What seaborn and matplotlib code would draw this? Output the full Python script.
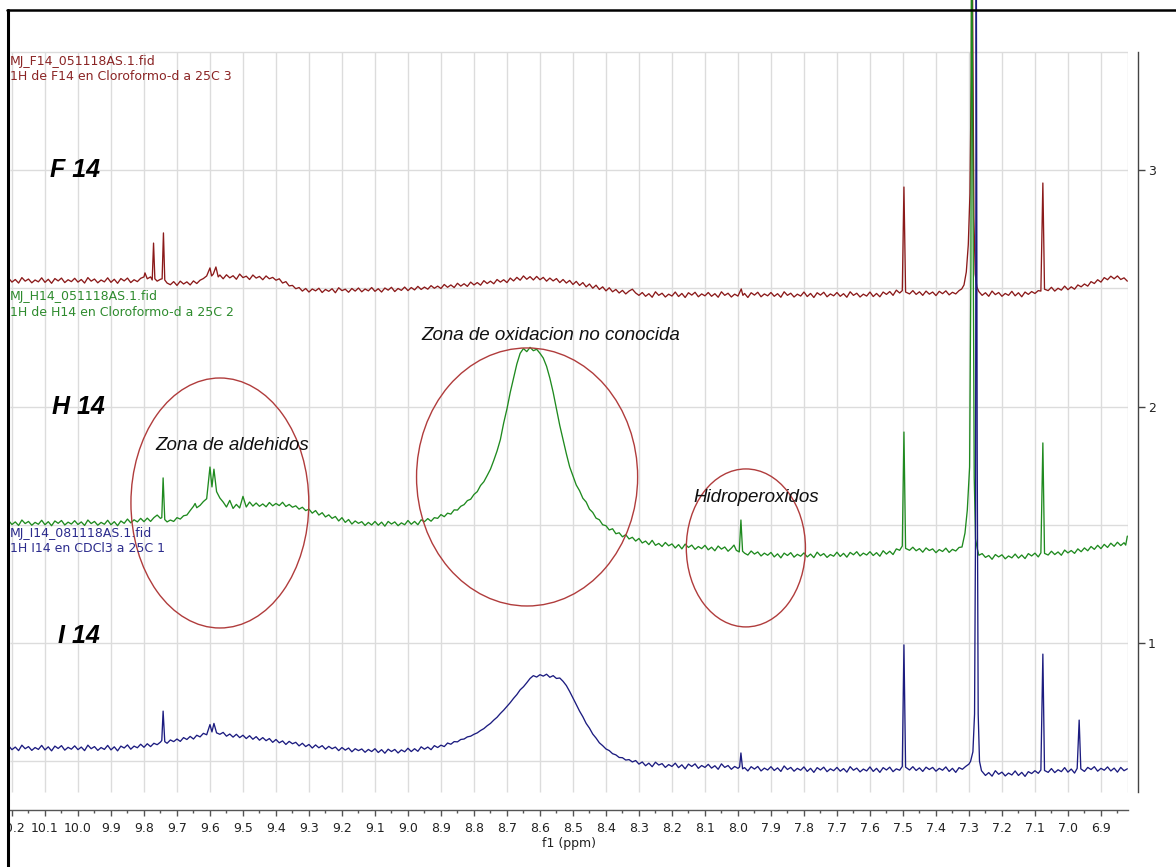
import numpy as np
import pandas as pd
import matplotlib
matplotlib.use("Agg")
import matplotlib.pyplot as plt
import seaborn as sns
from matplotlib.patches import Ellipse, Rectangle
from matplotlib.lines import Line2D

# ---------------- data ----------------
samples = ["F 14", "H 14", "I 14"]

f14_points = [
    (10.21, 2.542), (10.20, 2.526), (10.19, 2.537), (10.18, 2.522), (10.17, 2.545), (10.16, 2.530),
    (10.15, 2.539), (10.14, 2.523), (10.13, 2.535), (10.12, 2.527), (10.11, 2.544), (10.10, 2.525),
    (10.09, 2.538), (10.08, 2.521), (10.07, 2.541), (10.06, 2.531), (10.05, 2.543), (10.04, 2.524),
    (10.03, 2.536), (10.02, 2.528), (10.01, 2.542), (10.00, 2.526), (9.99, 2.537), (9.98, 2.522),
    (9.97, 2.545), (9.96, 2.530), (9.95, 2.539), (9.94, 2.523), (9.93, 2.535), (9.92, 2.527),
    (9.91, 2.544), (9.90, 2.525), (9.89, 2.538), (9.88, 2.521), (9.87, 2.541), (9.86, 2.531),
    (9.85, 2.543), (9.84, 2.524), (9.83, 2.536), (9.82, 2.528), (9.81, 2.542), (9.80, 2.548),
    (9.797, 2.565), (9.79, 2.540), (9.78, 2.548), (9.775, 2.535), (9.771, 2.691), (9.767, 2.540),
    (9.76, 2.530), (9.75, 2.538), (9.745, 2.540), (9.741, 2.734), (9.737, 2.535), (9.73, 2.522),
    (9.72, 2.515), (9.71, 2.528), (9.70, 2.512), (9.69, 2.530), (9.68, 2.518), (9.67, 2.527),
    (9.66, 2.514), (9.65, 2.531), (9.64, 2.520), (9.63, 2.534), (9.62, 2.541), (9.61, 2.552),
    (9.60, 2.586), (9.595, 2.552), (9.59, 2.560), (9.582, 2.590), (9.575, 2.548), (9.57, 2.556),
    (9.56, 2.540), (9.55, 2.557), (9.54, 2.544), (9.53, 2.553), (9.52, 2.538), (9.51, 2.560),
    (9.50, 2.545), (9.49, 2.551), (9.48, 2.537), (9.47, 2.556), (9.46, 2.543), (9.45, 2.550),
    (9.44, 2.536), (9.43, 2.552), (9.42, 2.540), (9.41, 2.546), (9.40, 2.534), (9.39, 2.540),
    (9.38, 2.522), (9.37, 2.528), (9.36, 2.510), (9.35, 2.512), (9.34, 2.498), (9.33, 2.503),
    (9.32, 2.488), (9.31, 2.499), (9.30, 2.484), (9.29, 2.497), (9.28, 2.489), (9.27, 2.500),
    (9.26, 2.482), (9.25, 2.495), (9.24, 2.487), (9.23, 2.498), (9.22, 2.481), (9.21, 2.502),
    (9.20, 2.490), (9.19, 2.496), (9.18, 2.483), (9.17, 2.499), (9.16, 2.488), (9.15, 2.501),
    (9.14, 2.485), (9.13, 2.497), (9.12, 2.489), (9.11, 2.503), (9.10, 2.487), (9.09, 2.498),
    (9.08, 2.484), (9.07, 2.501), (9.06, 2.492), (9.05, 2.504), (9.04, 2.486), (9.03, 2.499),
    (9.02, 2.491), (9.01, 2.505), (9.00, 2.490), (8.99, 2.503), (8.98, 2.493), (8.97, 2.508),
    (8.96, 2.495), (8.95, 2.505), (8.94, 2.496), (8.93, 2.511), (8.92, 2.500), (8.91, 2.509),
    (8.90, 2.499), (8.89, 2.516), (8.88, 2.504), (8.87, 2.514), (8.86, 2.503), (8.85, 2.521),
    (8.84, 2.509), (8.83, 2.519), (8.82, 2.508), (8.81, 2.526), (8.80, 2.514), (8.79, 2.524),
    (8.78, 2.513), (8.77, 2.532), (8.76, 2.520), (8.75, 2.530), (8.74, 2.519), (8.73, 2.537),
    (8.72, 2.526), (8.71, 2.536), (8.70, 2.524), (8.69, 2.543), (8.68, 2.531), (8.67, 2.546),
    (8.66, 2.534), (8.65, 2.552), (8.64, 2.538), (8.63, 2.549), (8.62, 2.535), (8.61, 2.550),
    (8.60, 2.536), (8.59, 2.546), (8.58, 2.530), (8.57, 2.543), (8.56, 2.531), (8.55, 2.541),
    (8.54, 2.524), (8.53, 2.537), (8.52, 2.522), (8.51, 2.533), (8.50, 2.516), (8.49, 2.529),
    (8.48, 2.512), (8.47, 2.524), (8.46, 2.506), (8.45, 2.518), (8.44, 2.500), (8.43, 2.513),
    (8.42, 2.495), (8.41, 2.506), (8.40, 2.489), (8.39, 2.502), (8.38, 2.485), (8.37, 2.495),
    (8.36, 2.480), (8.35, 2.491), (8.34, 2.476), (8.33, 2.488), (8.32, 2.496), (8.31, 2.480),
    (8.30, 2.470), (8.29, 2.482), (8.28, 2.466), (8.27, 2.477), (8.26, 2.462), (8.25, 2.485),
    (8.24, 2.470), (8.23, 2.479), (8.22, 2.463), (8.21, 2.475), (8.20, 2.467), (8.19, 2.484),
    (8.18, 2.465), (8.17, 2.478), (8.16, 2.461), (8.15, 2.481), (8.14, 2.471), (8.13, 2.483),
    (8.12, 2.464), (8.11, 2.476), (8.10, 2.468), (8.09, 2.482), (8.08, 2.466), (8.07, 2.477),
    (8.06, 2.462), (8.05, 2.485), (8.04, 2.470), (8.03, 2.479), (8.02, 2.463), (8.01, 2.475),
    (8.00, 2.467), (7.99, 2.497), (7.985, 2.470), (7.98, 2.478), (7.97, 2.461), (7.96, 2.481),
    (7.95, 2.471), (7.94, 2.483), (7.93, 2.464), (7.92, 2.476), (7.91, 2.468), (7.90, 2.482),
    (7.89, 2.466), (7.88, 2.477), (7.87, 2.462), (7.86, 2.485), (7.85, 2.470), (7.84, 2.479),
    (7.83, 2.463), (7.82, 2.475), (7.81, 2.467), (7.80, 2.484), (7.79, 2.465), (7.78, 2.478),
    (7.77, 2.461), (7.76, 2.481), (7.75, 2.471), (7.74, 2.483), (7.73, 2.464), (7.72, 2.476),
    (7.71, 2.468), (7.70, 2.482), (7.69, 2.466), (7.68, 2.477), (7.67, 2.462), (7.66, 2.485),
    (7.65, 2.470), (7.64, 2.479), (7.63, 2.463), (7.62, 2.475), (7.61, 2.467), (7.60, 2.484),
    (7.59, 2.465), (7.58, 2.478), (7.57, 2.464), (7.56, 2.484), (7.55, 2.474), (7.54, 2.486),
    (7.53, 2.470), (7.52, 2.492), (7.51, 2.480), (7.502, 2.490), (7.497, 2.928), (7.492, 2.484),
    (7.48, 2.476), (7.47, 2.490), (7.46, 2.474), (7.45, 2.485), (7.44, 2.470), (7.43, 2.488),
    (7.42, 2.475), (7.41, 2.484), (7.40, 2.469), (7.39, 2.487), (7.38, 2.477), (7.37, 2.489),
    (7.36, 2.472), (7.35, 2.483), (7.34, 2.476), (7.33, 2.490), (7.322, 2.497), (7.315, 2.514),
    (7.308, 2.569), (7.302, 2.684), (7.297, 2.900), (7.293, 3.400), (7.291, 4.200), (7.288, 3.500),
    (7.285, 2.800), (7.281, 2.560), (7.276, 2.505), (7.27, 2.486), (7.26, 2.470), (7.25, 2.481),
    (7.24, 2.466), (7.23, 2.488), (7.22, 2.473), (7.21, 2.482), (7.20, 2.466), (7.19, 2.478),
    (7.18, 2.470), (7.17, 2.487), (7.16, 2.468), (7.15, 2.481), (7.14, 2.464), (7.13, 2.484),
    (7.12, 2.474), (7.11, 2.486), (7.10, 2.478), (7.09, 2.490), (7.082, 2.488), (7.076, 2.945),
    (7.071, 2.496), (7.06, 2.490), (7.05, 2.504), (7.04, 2.488), (7.03, 2.500), (7.02, 2.492),
    (7.01, 2.509), (7.00, 2.494), (6.99, 2.506), (6.98, 2.496), (6.97, 2.514), (6.96, 2.506),
    (6.95, 2.518), (6.94, 2.509), (6.93, 2.528), (6.92, 2.520), (6.91, 2.536), (6.90, 2.526),
    (6.89, 2.545), (6.88, 2.536), (6.87, 2.551), (6.86, 2.540), (6.85, 2.552), (6.84, 2.537),
    (6.83, 2.544), (6.82, 2.530),
]

h14_points = [
    (10.21, 1.517), (10.20, 1.501), (10.19, 1.512), (10.18, 1.497), (10.17, 1.520), (10.16, 1.505),
    (10.15, 1.514), (10.14, 1.498), (10.13, 1.510), (10.12, 1.502), (10.11, 1.519), (10.10, 1.500),
    (10.09, 1.513), (10.08, 1.496), (10.07, 1.516), (10.06, 1.506), (10.05, 1.518), (10.04, 1.499),
    (10.03, 1.511), (10.02, 1.503), (10.01, 1.517), (10.00, 1.501), (9.99, 1.512), (9.98, 1.497),
    (9.97, 1.520), (9.96, 1.505), (9.95, 1.514), (9.94, 1.498), (9.93, 1.510), (9.92, 1.502),
    (9.91, 1.519), (9.90, 1.500), (9.89, 1.513), (9.88, 1.496), (9.87, 1.516), (9.86, 1.506),
    (9.85, 1.524), (9.84, 1.508), (9.83, 1.521), (9.82, 1.512), (9.81, 1.527), (9.80, 1.513),
    (9.79, 1.528), (9.78, 1.514), (9.77, 1.530), (9.76, 1.541), (9.75, 1.527), (9.746, 1.530),
    (9.742, 1.698), (9.737, 1.522), (9.73, 1.512), (9.72, 1.520), (9.71, 1.514), (9.70, 1.530),
    (9.69, 1.524), (9.68, 1.538), (9.67, 1.541), (9.66, 1.560), (9.65, 1.578), (9.645, 1.590),
    (9.64, 1.572), (9.63, 1.582), (9.62, 1.598), (9.61, 1.610), (9.60, 1.744), (9.594, 1.660),
    (9.588, 1.735), (9.58, 1.640), (9.57, 1.613), (9.56, 1.596), (9.55, 1.575), (9.54, 1.603),
    (9.53, 1.569), (9.52, 1.586), (9.51, 1.571), (9.50, 1.620), (9.49, 1.575), (9.48, 1.596),
    (9.47, 1.579), (9.46, 1.592), (9.45, 1.578), (9.44, 1.588), (9.43, 1.576), (9.42, 1.594),
    (9.41, 1.580), (9.40, 1.590), (9.39, 1.581), (9.38, 1.595), (9.37, 1.577), (9.36, 1.586),
    (9.35, 1.574), (9.34, 1.580), (9.33, 1.566), (9.32, 1.574), (9.31, 1.560), (9.30, 1.566),
    (9.29, 1.549), (9.28, 1.560), (9.27, 1.541), (9.26, 1.551), (9.25, 1.533), (9.24, 1.542),
    (9.23, 1.527), (9.22, 1.535), (9.21, 1.516), (9.20, 1.530), (9.19, 1.510), (9.18, 1.522),
    (9.17, 1.503), (9.16, 1.516), (9.15, 1.506), (9.14, 1.513), (9.13, 1.497), (9.12, 1.510),
    (9.11, 1.499), (9.10, 1.514), (9.09, 1.498), (9.08, 1.511), (9.07, 1.494), (9.06, 1.514),
    (9.05, 1.503), (9.04, 1.512), (9.03, 1.496), (9.02, 1.508), (9.01, 1.500), (9.00, 1.518),
    (8.99, 1.502), (8.98, 1.514), (8.97, 1.500), (8.96, 1.521), (8.95, 1.513), (8.94, 1.526),
    (8.93, 1.515), (8.92, 1.530), (8.91, 1.527), (8.90, 1.543), (8.89, 1.534), (8.88, 1.549),
    (8.87, 1.545), (8.86, 1.563), (8.85, 1.562), (8.84, 1.578), (8.83, 1.585), (8.82, 1.602),
    (8.81, 1.608), (8.80, 1.628), (8.79, 1.640), (8.78, 1.666), (8.77, 1.682), (8.76, 1.708),
    (8.75, 1.735), (8.74, 1.772), (8.73, 1.812), (8.72, 1.860), (8.71, 1.930), (8.70, 1.990),
    (8.69, 2.060), (8.68, 2.120), (8.67, 2.180), (8.66, 2.225), (8.65, 2.245), (8.64, 2.232),
    (8.63, 2.250), (8.62, 2.236), (8.61, 2.242), (8.60, 2.225), (8.59, 2.205), (8.58, 2.170),
    (8.57, 2.120), (8.56, 2.060), (8.55, 1.990), (8.54, 1.920), (8.53, 1.860), (8.52, 1.800),
    (8.51, 1.745), (8.50, 1.706), (8.49, 1.668), (8.48, 1.644), (8.47, 1.612), (8.46, 1.596),
    (8.45, 1.566), (8.44, 1.552), (8.43, 1.528), (8.42, 1.521), (8.41, 1.500), (8.40, 1.496),
    (8.39, 1.478), (8.38, 1.483), (8.37, 1.462), (8.36, 1.466), (8.35, 1.449), (8.34, 1.458),
    (8.33, 1.440), (8.32, 1.447), (8.31, 1.431), (8.30, 1.442), (8.29, 1.423), (8.28, 1.431),
    (8.27, 1.416), (8.26, 1.434), (8.25, 1.413), (8.24, 1.421), (8.23, 1.408), (8.22, 1.425),
    (8.21, 1.411), (8.20, 1.419), (8.19, 1.402), (8.18, 1.416), (8.17, 1.398), (8.16, 1.418),
    (8.15, 1.404), (8.14, 1.414), (8.13, 1.396), (8.12, 1.408), (8.11, 1.399), (8.10, 1.413),
    (8.09, 1.394), (8.08, 1.405), (8.07, 1.390), (8.06, 1.410), (8.05, 1.397), (8.04, 1.406),
    (8.03, 1.388), (8.02, 1.401), (8.012, 1.414), (8.005, 1.392), (7.996, 1.385), (7.991, 1.520),
    (7.986, 1.388), (7.98, 1.380), (7.97, 1.372), (7.96, 1.389), (7.95, 1.376), (7.94, 1.385),
    (7.93, 1.368), (7.92, 1.380), (7.91, 1.371), (7.90, 1.383), (7.89, 1.364), (7.88, 1.377),
    (7.87, 1.360), (7.86, 1.380), (7.85, 1.370), (7.84, 1.382), (7.83, 1.363), (7.82, 1.375),
    (7.81, 1.367), (7.80, 1.381), (7.79, 1.364), (7.78, 1.376), (7.77, 1.361), (7.76, 1.384),
    (7.75, 1.369), (7.74, 1.378), (7.73, 1.362), (7.72, 1.374), (7.71, 1.367), (7.70, 1.384),
    (7.69, 1.366), (7.68, 1.379), (7.67, 1.363), (7.66, 1.383), (7.65, 1.373), (7.64, 1.386),
    (7.63, 1.368), (7.62, 1.380), (7.61, 1.372), (7.60, 1.386), (7.59, 1.370), (7.58, 1.382),
    (7.57, 1.367), (7.56, 1.390), (7.55, 1.376), (7.54, 1.388), (7.53, 1.374), (7.52, 1.398),
    (7.51, 1.392), (7.502, 1.410), (7.497, 1.892), (7.492, 1.400), (7.48, 1.392), (7.47, 1.405),
    (7.46, 1.390), (7.45, 1.399), (7.44, 1.384), (7.43, 1.402), (7.42, 1.391), (7.41, 1.398),
    (7.40, 1.382), (7.39, 1.395), (7.38, 1.387), (7.37, 1.401), (7.36, 1.383), (7.35, 1.396),
    (7.34, 1.389), (7.33, 1.404), (7.321, 1.406), (7.312, 1.465), (7.305, 1.562), (7.298, 1.744),
    (7.294, 2.600), (7.292, 4.200), (7.288, 3.000), (7.284, 1.700), (7.280, 1.440), (7.275, 1.400),
    (7.27, 1.371), (7.26, 1.378), (7.25, 1.362), (7.24, 1.370), (7.23, 1.354), (7.22, 1.374),
    (7.21, 1.364), (7.20, 1.373), (7.19, 1.356), (7.18, 1.368), (7.17, 1.360), (7.16, 1.376),
    (7.15, 1.359), (7.14, 1.372), (7.13, 1.357), (7.12, 1.378), (7.11, 1.368), (7.10, 1.380),
    (7.09, 1.364), (7.082, 1.381), (7.076, 1.846), (7.071, 1.379), (7.06, 1.372), (7.05, 1.388),
    (7.04, 1.374), (7.03, 1.385), (7.02, 1.371), (7.01, 1.393), (7.00, 1.381), (6.99, 1.391),
    (6.98, 1.379), (6.97, 1.398), (6.96, 1.386), (6.95, 1.402), (6.94, 1.390), (6.93, 1.408),
    (6.92, 1.396), (6.91, 1.413), (6.90, 1.399), (6.89, 1.417), (6.88, 1.404), (6.87, 1.422),
    (6.86, 1.409), (6.85, 1.426), (6.84, 1.412), (6.83, 1.424), (6.825, 1.414), (6.82, 1.452),
]

i14_points = [
    (10.21, 0.565), (10.20, 0.549), (10.19, 0.560), (10.18, 0.545), (10.17, 0.568), (10.16, 0.553),
    (10.15, 0.562), (10.14, 0.546), (10.13, 0.558), (10.12, 0.550), (10.11, 0.567), (10.10, 0.548),
    (10.09, 0.561), (10.08, 0.544), (10.07, 0.564), (10.06, 0.554), (10.05, 0.566), (10.04, 0.547),
    (10.03, 0.559), (10.02, 0.551), (10.01, 0.565), (10.00, 0.549), (9.99, 0.560), (9.98, 0.545),
    (9.97, 0.568), (9.96, 0.553), (9.95, 0.562), (9.94, 0.546), (9.93, 0.558), (9.92, 0.550),
    (9.91, 0.567), (9.90, 0.548), (9.89, 0.561), (9.88, 0.544), (9.87, 0.564), (9.86, 0.556),
    (9.85, 0.569), (9.84, 0.551), (9.83, 0.564), (9.82, 0.557), (9.81, 0.572), (9.80, 0.559),
    (9.79, 0.574), (9.78, 0.562), (9.77, 0.576), (9.76, 0.570), (9.75, 0.581), (9.746, 0.588),
    (9.742, 0.712), (9.737, 0.583), (9.73, 0.576), (9.72, 0.590), (9.71, 0.583), (9.70, 0.594),
    (9.69, 0.584), (9.68, 0.600), (9.67, 0.592), (9.66, 0.605), (9.65, 0.594), (9.64, 0.610),
    (9.63, 0.603), (9.62, 0.618), (9.61, 0.612), (9.60, 0.655), (9.594, 0.624), (9.588, 0.660),
    (9.58, 0.620), (9.57, 0.614), (9.56, 0.622), (9.55, 0.606), (9.54, 0.615), (9.53, 0.602),
    (9.52, 0.614), (9.51, 0.600), (9.50, 0.610), (9.49, 0.596), (9.48, 0.608), (9.47, 0.593),
    (9.46, 0.604), (9.45, 0.589), (9.44, 0.600), (9.43, 0.587), (9.42, 0.596), (9.41, 0.580),
    (9.40, 0.592), (9.39, 0.578), (9.38, 0.586), (9.37, 0.571), (9.36, 0.584), (9.35, 0.574),
    (9.34, 0.580), (9.33, 0.565), (9.32, 0.576), (9.31, 0.562), (9.30, 0.571), (9.29, 0.556),
    (9.28, 0.569), (9.27, 0.557), (9.26, 0.566), (9.25, 0.551), (9.24, 0.563), (9.23, 0.553),
    (9.22, 0.560), (9.21, 0.545), (9.20, 0.558), (9.19, 0.547), (9.18, 0.556), (9.17, 0.540),
    (9.16, 0.553), (9.15, 0.545), (9.14, 0.552), (9.13, 0.538), (9.12, 0.550), (9.11, 0.541),
    (9.10, 0.553), (9.09, 0.537), (9.08, 0.549), (9.07, 0.534), (9.06, 0.551), (9.05, 0.541),
    (9.04, 0.550), (9.03, 0.535), (9.02, 0.548), (9.01, 0.540), (9.00, 0.555), (8.99, 0.541),
    (8.98, 0.553), (8.97, 0.542), (8.96, 0.561), (8.95, 0.551), (8.94, 0.560), (8.93, 0.549),
    (8.92, 0.566), (8.91, 0.558), (8.90, 0.568), (8.89, 0.562), (8.88, 0.577), (8.87, 0.572),
    (8.86, 0.583), (8.85, 0.582), (8.84, 0.592), (8.83, 0.594), (8.82, 0.603), (8.81, 0.606),
    (8.80, 0.614), (8.79, 0.620), (8.78, 0.630), (8.77, 0.638), (8.76, 0.650), (8.75, 0.660),
    (8.74, 0.674), (8.73, 0.686), (8.72, 0.702), (8.71, 0.716), (8.70, 0.732), (8.69, 0.748),
    (8.68, 0.766), (8.67, 0.782), (8.66, 0.802), (8.65, 0.815), (8.64, 0.832), (8.63, 0.850),
    (8.62, 0.862), (8.61, 0.856), (8.60, 0.866), (8.59, 0.860), (8.58, 0.868), (8.57, 0.855),
    (8.56, 0.862), (8.55, 0.850), (8.54, 0.852), (8.53, 0.838), (8.52, 0.820), (8.51, 0.795),
    (8.50, 0.768), (8.49, 0.740), (8.48, 0.712), (8.47, 0.688), (8.46, 0.660), (8.45, 0.640),
    (8.44, 0.615), (8.43, 0.598), (8.42, 0.578), (8.41, 0.566), (8.40, 0.552), (8.39, 0.545),
    (8.38, 0.532), (8.37, 0.527), (8.36, 0.516), (8.35, 0.515), (8.34, 0.505), (8.33, 0.507),
    (8.32, 0.497), (8.31, 0.503), (8.30, 0.488), (8.29, 0.497), (8.28, 0.481), (8.27, 0.492),
    (8.26, 0.477), (8.25, 0.496), (8.24, 0.484), (8.23, 0.490), (8.22, 0.474), (8.21, 0.486),
    (8.20, 0.478), (8.19, 0.492), (8.18, 0.473), (8.17, 0.485), (8.16, 0.468), (8.15, 0.488),
    (8.14, 0.478), (8.13, 0.489), (8.12, 0.470), (8.11, 0.482), (8.10, 0.474), (8.09, 0.487),
    (8.08, 0.471), (8.07, 0.481), (8.06, 0.466), (8.05, 0.489), (8.04, 0.474), (8.03, 0.482),
    (8.02, 0.466), (8.01, 0.478), (8.00, 0.470), (7.995, 0.476), (7.991, 0.535), (7.986, 0.468),
    (7.98, 0.473), (7.97, 0.459), (7.96, 0.477), (7.95, 0.467), (7.94, 0.478), (7.93, 0.459),
    (7.92, 0.471), (7.91, 0.463), (7.90, 0.477), (7.89, 0.461), (7.88, 0.472), (7.87, 0.457),
    (7.86, 0.480), (7.85, 0.465), (7.84, 0.474), (7.83, 0.458), (7.82, 0.470), (7.81, 0.462),
    (7.80, 0.476), (7.79, 0.457), (7.78, 0.470), (7.77, 0.453), (7.76, 0.473), (7.75, 0.463),
    (7.74, 0.475), (7.73, 0.456), (7.72, 0.468), (7.71, 0.460), (7.70, 0.474), (7.69, 0.458),
    (7.68, 0.469), (7.67, 0.454), (7.66, 0.477), (7.65, 0.462), (7.64, 0.471), (7.63, 0.455),
    (7.62, 0.467), (7.61, 0.459), (7.60, 0.476), (7.59, 0.457), (7.58, 0.470), (7.57, 0.453),
    (7.56, 0.473), (7.55, 0.463), (7.54, 0.475), (7.53, 0.456), (7.52, 0.468), (7.51, 0.462),
    (7.502, 0.478), (7.497, 0.992), (7.492, 0.475), (7.48, 0.463), (7.47, 0.477), (7.46, 0.461),
    (7.45, 0.472), (7.44, 0.457), (7.43, 0.475), (7.42, 0.465), (7.41, 0.474), (7.40, 0.458),
    (7.39, 0.470), (7.38, 0.462), (7.37, 0.476), (7.36, 0.457), (7.35, 0.470), (7.34, 0.453),
    (7.33, 0.473), (7.32, 0.466), (7.31, 0.478), (7.300, 0.488), (7.295, 0.500), (7.288, 0.540),
    (7.283, 0.700), (7.280, 1.500), (7.278, 4.200), (7.275, 1.800), (7.272, 0.700), (7.268, 0.500),
    (7.262, 0.460), (7.25, 0.440), (7.24, 0.452), (7.23, 0.437), (7.22, 0.460), (7.21, 0.445),
    (7.20, 0.454), (7.19, 0.438), (7.18, 0.450), (7.17, 0.442), (7.16, 0.459), (7.15, 0.440),
    (7.14, 0.453), (7.13, 0.436), (7.12, 0.456), (7.11, 0.448), (7.10, 0.460), (7.09, 0.449),
    (7.082, 0.463), (7.076, 0.953), (7.071, 0.461), (7.06, 0.453), (7.05, 0.469), (7.04, 0.452),
    (7.03, 0.464), (7.02, 0.456), (7.01, 0.473), (7.00, 0.454), (6.99, 0.467), (6.98, 0.450),
    (6.972, 0.470), (6.966, 0.674), (6.961, 0.468), (6.95, 0.457), (6.94, 0.474), (6.93, 0.465),
    (6.92, 0.477), (6.91, 0.458), (6.90, 0.470), (6.89, 0.462), (6.88, 0.476), (6.87, 0.459),
    (6.86, 0.471), (6.85, 0.454), (6.84, 0.474), (6.83, 0.460), (6.82, 0.468),
]

file_names = ["MJ_F14_051118AS.1.fid", "MJ_H14_051118AS.1.fid", "MJ_I14_081118AS.1.fid"]
descriptions = ["1H de F14 en Cloroformo-d a 25C 3", "1H de H14 en Cloroformo-d a 25C 2",
                "1H I14 en CDCl3 a 25C 1"]
x_ticks = [10.2, 10.1, 10.0, 9.9, 9.8, 9.7, 9.6, 9.5, 9.4, 9.3, 9.2, 9.1, 9.0, 8.9, 8.8, 8.7, 8.6,
           8.5, 8.4, 8.3, 8.2, 8.1, 8.0, 7.9, 7.8, 7.7, 7.6, 7.5, 7.4, 7.3, 7.2, 7.1, 7.0, 6.9]
y_ticks = [1, 2, 3]
h_grid = [0.5, 1.0, 1.5, 2.0, 2.5, 3.0, 3.5]

# ---------------- build long table ----------------
frames = []
for name, pts in zip(samples, [f14_points, h14_points, i14_points]):
    d = pd.DataFrame(pts, columns=["ppm", "intensity"])
    d["sample"] = name
    frames.append(d)
df = pd.concat(frames, ignore_index=True)

colors = {"F 14": "#8b1a1a", "H 14": "#1f8a1f", "I 14": "#1c1c80"}
text_colors = ["#8b2525", "#2e8b2e", "#2b2b8c"]

# ---------------- figure ----------------
sns.set_theme(style="white")
plt.rcParams["font.family"] = ["DejaVu Sans"]

W, H = 1176, 867
fig = plt.figure(figsize=(W / 100, H / 100), dpi=100)
fig.patch.set_facecolor("white")


def v_of(p):
    return 1 + (643 - p) / 236.5


X_LEFT, X_RIGHT = 10.206, 6.818
Y_BOT, Y_TOP = v_of(810), v_of(0)

ax = fig.add_axes([10 / W, (H - 810) / H, 1118 / W, 810 / H])
ax.set_facecolor("none")

grid_c = "#dcdcdc"
ax.vlines(x_ticks + [X_RIGHT], v_of(792), 3.5, color=grid_c, lw=1, zorder=0)
ax.hlines(h_grid, X_LEFT, X_RIGHT, color=grid_c, lw=1, zorder=0)

sns.lineplot(data=df, x="ppm", y="intensity", hue="sample", hue_order=samples,
             palette=colors, units="sample", estimator=None, sort=False,
             lw=0.95, legend=False, ax=ax, zorder=3)

ax.set_xlim(X_LEFT, X_RIGHT)
ax.set_ylim(Y_BOT, Y_TOP)
for s in ["top", "left", "right"]:
    ax.spines[s].set_visible(False)
ax.spines["bottom"].set_color("#555555")
ax.spines["bottom"].set_linewidth(1.0)
ax.set_yticks([])
ax.set_xticks(x_ticks)
ax.set_xticklabels([f"{t:.1f}" for t in x_ticks])
ax.set_xticks([t - 0.05 for t in x_ticks], minor=True)
ax.tick_params(axis="x", which="major", direction="out", length=4, width=1,
               color="#555555", labelsize=9, labelcolor="#222222", pad=5, bottom=True)
ax.tick_params(axis="x", which="minor", direction="out", length=2, width=1,
               color="#555555", bottom=True)
ax.set_xlabel("")
ax.set_ylabel("")
fig.text(569 / W, 1 - 843 / H, "f1 (ppm)", ha="center", va="center", fontsize=9,
         color="#222222")

# right intensity axis
ax2 = fig.add_axes([1100 / W, (H - 810) / H, 38 / W, 810 / H])
ax2.patch.set_visible(False)
ax2.set_ylim(Y_BOT, Y_TOP)
for s in ["top", "left", "bottom"]:
    ax2.spines[s].set_visible(False)
ax2.spines["right"].set_bounds(v_of(792), 3.5)
ax2.spines["right"].set_color("#444444")
ax2.spines["right"].set_linewidth(1.0)
ax2.set_xticks([])
ax2.yaxis.tick_right()
ax2.set_yticks(y_ticks)
ax2.set_yticklabels([str(t) for t in y_ticks])
ax2.tick_params(axis="y", direction="out", length=5, width=1, color="#444444",
                labelsize=9, labelcolor="#222222", pad=2)

# hide what lies left of the frame, then frame lines (left and top)
fig.add_artist(Rectangle((0, 0), 8 / W, 1, transform=fig.transFigure, facecolor="white",
                         edgecolor="none", zorder=9))
fig.add_artist(Line2D([8 / W, 8 / W], [0, 1 - 10 / H], transform=fig.transFigure,
                      color="black", lw=2.2, zorder=10))
fig.add_artist(Line2D([7 / W, 1], [1 - 10 / H, 1 - 10 / H], transform=fig.transFigure,
                      color="black", lw=1.8, zorder=10))

# spectrum titles
title_y = [(61, 76), (297, 312), (534, 549)]
for fn, desc, (y1, y2), c in zip(file_names, descriptions, title_y, text_colors):
    fig.text(10 / W, 1 - y1 / H, fn, ha="left", va="center", fontsize=9, color=c)
    fig.text(10 / W, 1 - y2 / H, desc, ha="left", va="center", fontsize=9, color=c)

# sample labels
label_pos = [(50, 170), (52, 407), (58, 636)]
for name, (px, py) in zip(samples, label_pos):
    fig.text(px / W, 1 - py / H, name, ha="left", va="center", fontsize=18,
             fontweight="bold", fontstyle="italic", family=["Liberation Sans", "DejaVu Sans"],
             color="black")

# annotations
notes = [("Zona de oxidacion no conocida", 421, 335), ("Zona de aldehidos", 155, 445),
         ("Hidroperoxidos", 693, 497)]
for txt, px, py in notes:
    fig.text(px / W, 1 - py / H, txt, ha="left", va="center", fontsize=13.5,
             fontstyle="italic", family=["Liberation Sans", "DejaVu Sans"], color="#111111")

# circled regions (center ppm, center intensity, width ppm, height intensity)
circles = [(9.570, 1.592, 0.539, 1.057), (8.639, 1.702, 0.670, 1.091), (7.976, 1.402, 0.361, 0.668)]
for cx, cy, w, h in circles:
    ax.add_patch(Ellipse((cx, cy), w, h, fill=False, ec="#b03c3c", lw=1.0, zorder=4))

fig.savefig("out.png", dpi=100, facecolor="white")
